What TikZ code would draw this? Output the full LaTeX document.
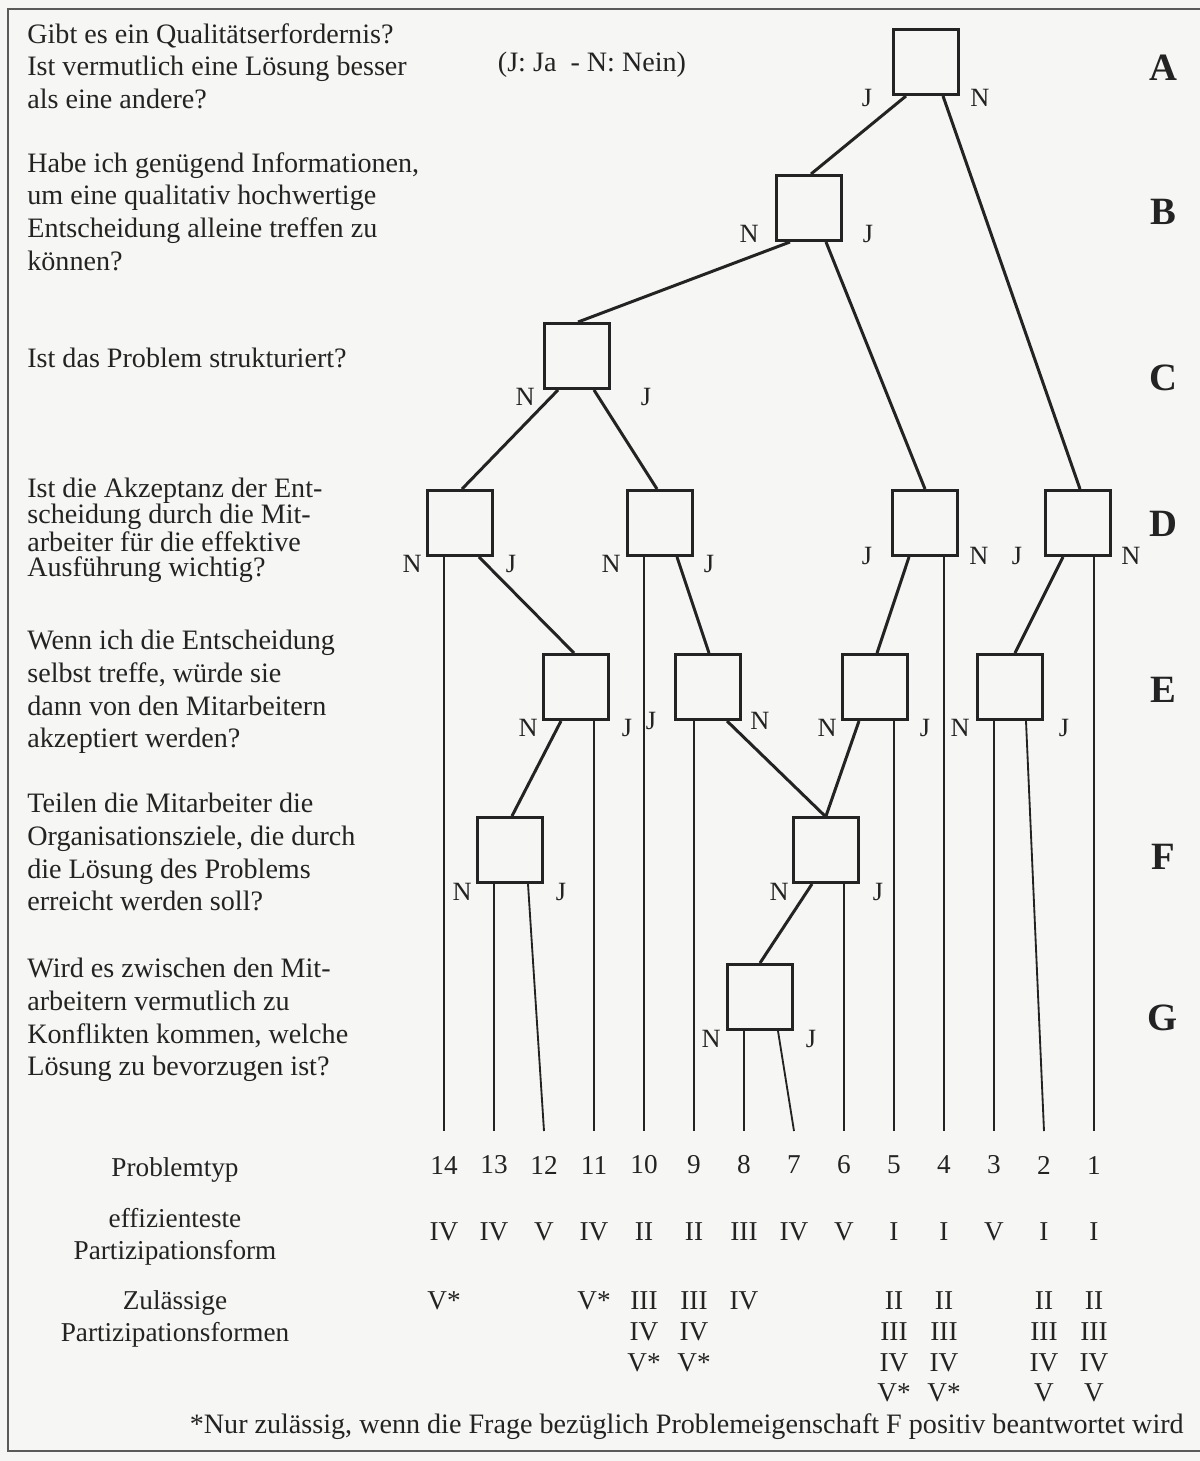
\documentclass[tikz,border=0pt]{standalone}
\usepackage{fontspec}
\setmainfont{Liberation Serif}
\usepackage{xcolor}
\usepackage{tikz}
\usetikzlibrary{calc,positioning}
\definecolor{paper}{RGB}{246,246,244}
\definecolor{ink}{RGB}{35,35,35}
\tikzset{
  qbox/.style={draw=ink,line width=1.7pt,minimum width=1.3cm,minimum height=1.3cm,
               inner sep=0pt},
  ast/.style={draw=ink,line width=1.7pt},
  leaf/.style={draw=ink,line width=1.05pt},
  yn/.style={inner sep=0pt,font=\fontsize{15}{18}\selectfont},
  frage/.style={anchor=north west,align=left,inner sep=0pt,
                font=\fontsize{16}{18.6}\selectfont},
  reihe/.style={font=\fontsize{22}{24}\selectfont\bfseries},
  tab/.style={inner sep=0pt,font=\fontsize{15.5}{17.6}\selectfont},
}

\begin{document}
\begin{tikzpicture}[x=0.02cm,y=-0.02cm,every node/.style={text=ink}]
  \useasboundingbox (0,0) rectangle (1200,1461);
  \fill[paper] (0,0) rectangle (1200,1461);
  \draw[ink!75,line width=1.6pt] (1200,9) -- (8,9) -- (8,1451) -- (1200,1451);

  \node[frage] (qa) at (27,23) {Gibt es ein Qualitätserfordernis?\\Ist vermutlich eine Lösung besser\\als eine andere?};
  \node[frage] (qb) at (27,152) {Habe ich genügend Informationen,\\um eine qualitativ hochwertige\\Entscheidung alleine treffen zu\\können?};
  \node[frage] (qc) at (27,348) {Ist das Problem strukturiert?};
  \node[frage,font=\fontsize{16}{14.6}\selectfont] (qd) at (27,478) {Ist die Akzeptanz der Ent-\\scheidung durch die Mit-\\arbeiter für die effektive\\Ausführung wichtig?};
  \node[frage] (qe) at (27,630) {Wenn ich die Entscheidung\\selbst treffe, würde sie\\dann von den Mitarbeitern\\akzeptiert werden?};
  \node[frage] (qf) at (27,793) {Teilen die Mitarbeiter die\\Organisationsziele, die durch\\die Lösung des Problems\\erreicht werden soll?};
  \node[frage] (qg) at (27,958) {Wird es zwischen den Mit-\\arbeitern vermutlich zu\\Konflikten kommen, welche\\Lösung zu bevorzugen ist?};
  \node[tab,font=\fontsize{16}{18}\selectfont] (legende) at (592,65) {(J: Ja\enspace- N: Nein)};

  \foreach \r/\y in {A/68,B/212,C/378,D/524,E/690,F/857,G/1018}
    \node[reihe] (row\r) at (1163,\y) {\r};

  \node[qbox] (a)  at (926,62)   {};
  \node[qbox] (b)  at (809,208)  {};
  \node[qbox] (c)  at (577,356)  {};
  \node[qbox] (d1) at (460,523)  {};
  \node[qbox] (d2) at (660,523)  {};
  \node[qbox] (d3) at (925,523)  {};
  \node[qbox] (d4) at (1078,523) {};
  \node[qbox] (e1) at (576,687)  {};
  \node[qbox] (e2) at (708,687)  {};
  \node[qbox] (e3) at (875,687)  {};
  \node[qbox] (e4) at (1010,687) {};
  \node[qbox] (f1) at (510,850)  {};
  \node[qbox] (f2) at (826,850)  {};
  \node[qbox] (g)  at (760,997)  {};

  \foreach \p/\px/\c/\cx in {a/-20/b/2, a/17/d4/2, b/-19/c/1, b/17/d3/0,
      c/-19/d1/2, c/17/d2/-3, d1/19/e1/-2, d2/17/e2/1, d3/-16/e3/2,
      d4/-15/e4/5, e1/-15/f1/2, e2/19/f2/-1, e3/-16/f2/0, f2/-14/g/0}
    \draw[ast] ($(\p.south)+(\px,0)$) -- ($(\c.north)+(\cx,0)$);

  \foreach \i in {1,...,14}{
    \pgfmathsetmacro{\lx}{1094-50*(\i-1)}
    \coordinate (l\i) at (\lx,1131);
    \node[tab] (nr\i) at (\lx,1165) {\i};
  }
  \foreach \p/\i in {d1/14,f1/13,e1/11,d2/10,e2/9,g/8,f2/6,e3/5,d3/4,e4/3,d4/1}
    \draw[leaf] (\p.south -| l\i) -- (l\i);
  \foreach \p/\px/\i in {f1/18/12,g/18/7,e4/16/2}
    \draw[leaf] ($(\p.south)+(\px,0)$) -- (l\i);

  \foreach \b/\l/\r/\dl/\dr/\dy in {a/J/N/-25/20/2, b/N/J/-26/25/-8, c/N/J/-18/35/7,
      d1/N/J/-14/17/7, d2/N/J/-15/15/7, d3/J/N/-24/20/-1, d4/J/N/-27/19/-1,
      e1/N/J/-14/17/7, e2/J/N/-23/18/0, e3/N/J/-14/16/7, e4/N/J/-16/20/7,
      f1/N/J/-14/17/8, f2/N/J/-13/18/8, g/N/J/-15/17/8}{
    \node[yn] (lab-\b-l) at ($(\b.south west)+(\dl,\dy)$) {\l};
    \node[yn] (lab-\b-r) at ($(\b.south east)+(\dr,\dy)$) {\r};
  }

  \node[tab,anchor=base] (ptyp) at (175,1176) {Problemtyp};
  \node[tab,align=center,anchor=north,font=\fontsize{15.5}{18.4}\selectfont] (peff) at (175,1208) {effizienteste\\Partizipationsform};
  \node[tab,align=center,anchor=north,font=\fontsize{15.5}{18.4}\selectfont] (pzul) at (175,1290) {Zulässige\\Partizipationsformen};

  \foreach \f [count=\k] in {IV,IV,V,IV,II,II,III,IV,V,I,I,V,I,I}{
    \pgfmathsetmacro{\ex}{444+50*(\k-1)}
    \node[tab] (eff\k) at (\ex,1232) {\f};
  }
  \foreach \i/\z in {14/{V*},11/{V*},10/{III\\IV\\V*},9/{III\\IV\\V*},8/{IV},
      5/{II\\III\\IV\\V*},4/{II\\III\\IV\\V*},2/{II\\III\\IV\\V},1/{II\\III\\IV\\V}}
    \node[tab,align=center,anchor=north] (zul\i) at ($(l\i)+(0,160)$) {\z};

  \node[tab,anchor=base east,font=\fontsize{16}{18}\selectfont] (fuss) at (1184,1433) {*Nur zulässig, wenn die Frage bezüglich Problemeigenschaft F positiv beantwortet wird};
\end{tikzpicture}
\end{document}
